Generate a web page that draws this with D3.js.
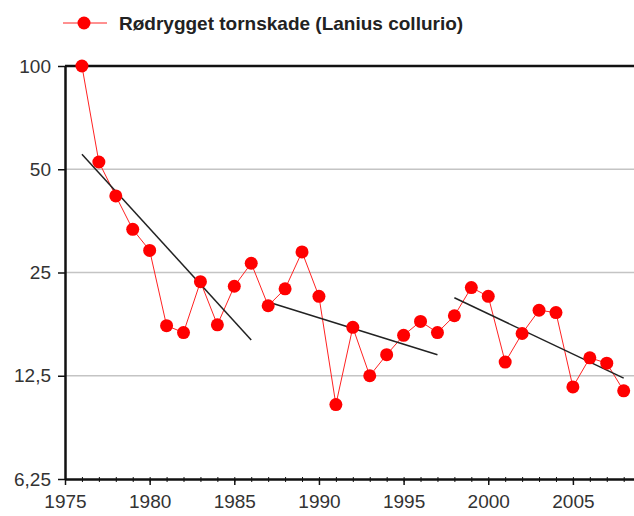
<!DOCTYPE html>
<html>
<head>
<meta charset="utf-8">
<script src="https://cdn.jsdelivr.net/npm/d3@7"></script>
<style>
  body { margin: 0; background: #fff; }
  svg { display: block; font-family: "Liberation Sans", Arial, sans-serif; }
</style>
</head>
<body>
<svg class="chart" width="634" height="516"></svg>
<script>
// index values (1976 = 100)
var years = [1976, 1977, 1978, 1979, 1980, 1981, 1982, 1983, 1984, 1985, 1986, 1987,
             1988, 1989, 1990, 1991, 1992, 1993, 1994, 1995, 1996, 1997, 1998, 1999,
             2000, 2001, 2002, 2003, 2004, 2005, 2006, 2007, 2008];
var index = [100, 52.5, 41.8, 33.4, 29.0, 17.5, 16.7, 23.5, 17.6, 22.8, 26.6, 20.0,
             22.4, 28.7, 21.3, 10.3, 17.3, 12.5, 14.4, 16.4, 18.0, 16.7, 18.7, 22.6,
             21.3, 13.7, 16.6, 19.4, 19.1, 11.6, 14.1, 13.6, 11.3];

// trend segments: [startYear, startValue, endYear, endValue]
var trends = [
  [1976, 55.3, 1986, 15.9],
  [1987, 20.5, 1997, 14.4],
  [1998, 21.1, 2008, 12.3]
];

var yTicks = [100, 50, 25, 12.5, 6.25];
var xTicks = [1975, 1980, 1985, 1990, 1995, 2000, 2005];
var seriesName = "Rødrygget tornskade (Lanius collurio)";

var svg = d3.select(".chart"),
    margin = {top: 66, left: 65, bottom: 37},
    height = +svg.attr("height") - margin.top - margin.bottom;

var x = d3.scaleLinear().domain([1975, 2010]).range([margin.left, margin.left + 35 * 16.93]);
var y = d3.scaleLog().base(2).domain([6.25, 100]).range([margin.top + height, margin.top]);

var fmt = function(d) { return String(d).replace(".", ","); };

// gridlines
svg.append("g")
    .selectAll("line")
    .data(yTicks.slice(1, 4))
  .enter().append("line")
    .attr("x1", margin.left)
    .attr("x2", 634)
    .attr("y1", function(d) { return y(d); })
    .attr("y2", function(d) { return y(d); })
    .attr("stroke", "#c4c4c4")
    .attr("stroke-width", 1.5);

// top border at 100
svg.append("line")
    .attr("x1", margin.left).attr("x2", 634)
    .attr("y1", y(100)).attr("y2", y(100))
    .attr("stroke", "#111").attr("stroke-width", 2.5);

// y axis
var yAxis = svg.append("g")
    .attr("transform", "translate(" + margin.left + ",0)")
    .call(d3.axisLeft(y).tickValues(yTicks).tickFormat(fmt).tickSizeInner(7).tickSizeOuter(0).tickPadding(7));
yAxis.select(".domain").attr("stroke", "#111").attr("stroke-width", 2.5);
yAxis.selectAll(".tick line").attr("stroke", "#111").attr("stroke-width", 1.5);
yAxis.selectAll(".tick text").attr("fill", "#333").style("font-size", "19px");

// x axis, minor ticks each year
var minor = svg.append("g")
    .attr("transform", "translate(0," + y(6.25) + ")")
    .call(d3.axisBottom(x).tickValues(d3.range(1975, 2010)).tickSize(3).tickFormat(""));
minor.select(".domain").remove();
minor.selectAll(".tick line").attr("stroke", "#111").attr("y1", -2);

var xAxis = svg.append("g")
    .attr("transform", "translate(0," + y(6.25) + ")")
    .call(d3.axisBottom(x).tickValues(xTicks).tickFormat(d3.format("d")).tickSizeInner(6).tickSizeOuter(0).tickPadding(10));
xAxis.select(".domain").attr("stroke", "#111").attr("stroke-width", 2.5);
xAxis.selectAll(".tick line").attr("stroke", "#111").attr("stroke-width", 1.5);
xAxis.selectAll(".tick text").attr("fill", "#333").style("font-size", "19px");

// series
var data = years.map(function(yr, i) { return {year: yr, value: index[i]}; });

var line = d3.line()
    .x(function(d) { return x(d.year); })
    .y(function(d) { return y(d.value); });

svg.append("path")
    .datum(data)
    .attr("fill", "none")
    .attr("stroke", "#f22")
    .attr("stroke-width", 1)
    .attr("d", line);

// trend lines
svg.append("g")
    .selectAll("line")
    .data(trends)
  .enter().append("line")
    .attr("x1", function(d) { return x(d[0]); })
    .attr("y1", function(d) { return y(d[1]); })
    .attr("x2", function(d) { return x(d[2]); })
    .attr("y2", function(d) { return y(d[3]); })
    .attr("stroke", "#222")
    .attr("stroke-width", 1.5);

svg.append("g")
    .selectAll("circle")
    .data(data)
  .enter().append("circle")
    .attr("cx", function(d) { return x(d.year); })
    .attr("cy", function(d) { return y(d.value); })
    .attr("r", 6.5)
    .attr("fill", "#f00");

// legend
var legend = svg.append("g").attr("transform", "translate(63,23)");
legend.append("line")
    .attr("x1", 0).attr("x2", 44)
    .attr("stroke", "#f22").attr("stroke-width", 1);
legend.append("circle")
    .attr("cx", 21).attr("r", 6.5).attr("fill", "#f00");
legend.append("text")
    .attr("x", 56)
    .attr("dy", "0.35em")
    .attr("fill", "#222")
    .style("font-size", "19px")
    .style("font-weight", "bold")
    .text(seriesName);
</script>
</body>
</html>
